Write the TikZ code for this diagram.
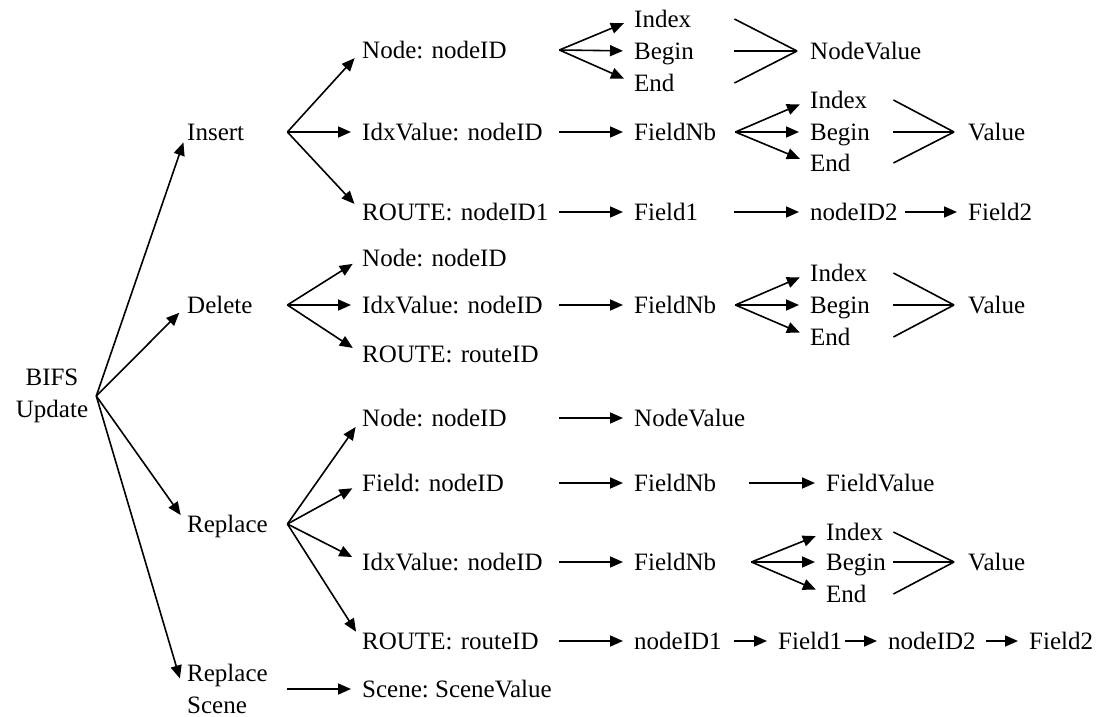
\documentclass[tikz,border=0pt]{standalone}
\usepackage{fontspec}
\setmainfont{Liberation Serif}
\usetikzlibrary{arrows.meta, positioning}
\frenchspacing

\begin{document}
\begin{tikzpicture}[
        x=1pt, y=-1pt,
        every node/.style={font=\fontsize{25}{32}\selectfont, inner sep=0pt},
        lbl/.style={anchor=west, align=left, text height=17pt, text depth=0pt},
        arr/.style={-{Triangle[length=13pt,width=11pt]}, line width=1.6pt, shorten >=11pt},
        merge/.style={line width=1.6pt}
    ]
        \useasboundingbox (0,0) rectangle (1104,717);

        \node[align=center] (bifs) at (52,396) {BIFS\\Update};
        \coordinate[right=8pt of bifs] (bifshub);

        \node[lbl, text width=100pt] (ins) at (187,132) {Insert};
        \node[lbl, text width=100pt] (del) at (187,305) {Delete};
        \node[lbl, text width=100pt] (rep) at (187,524) {Replace};
        \node[anchor=west, align=left, text width=100pt] (rsc) at (187,689) {Replace\\Scene};

        \node[lbl, text width=197pt] (insN) at (362,50) {Node: nodeID};
        \node[lbl, text width=197pt] (insI) at (362,132) {IdxValue: nodeID};
        \node[lbl, text width=197pt] (insR) at (362,212) {ROUTE: nodeID1};
        \node[lbl, text width=197pt] (delN) at (362,258) {Node: nodeID};
        \node[lbl, text width=197pt] (delI) at (362,305) {IdxValue: nodeID};
        \node[lbl, text width=197pt] (delR) at (362,354) {ROUTE: routeID};
        \node[lbl, text width=197pt] (repN) at (362,418) {Node: nodeID};
        \node[lbl, text width=197pt] (repF) at (362,483) {Field: nodeID};
        \node[lbl, text width=197pt] (repI) at (362,562) {IdxValue: nodeID};
        \node[lbl, text width=197pt] (repR) at (362,641) {ROUTE: routeID};
        \node[lbl] (scn) at (362,689) {Scene: SceneValue};

        \node[lbl, text width=100pt] (insNi) at (634,19) {Index};
        \node[lbl, text width=100pt] (insNb) at (634,51) {Begin};
        \node[lbl, text width=100pt] (insNe) at (634,83) {End};
        \node[lbl] (insNv) at (810,51) {NodeValue};

        \node[lbl, text width=101pt] (insIf) at (634,132) {FieldNb};
        \node[lbl, text width=83pt] (insIi) at (810,100) {Index};
        \node[lbl, text width=83pt] (insIb) at (810,132) {Begin};
        \node[lbl, text width=83pt] (insIe) at (810,163) {End};
        \node[lbl] (insIv) at (968,132) {Value};

        \node[lbl, text width=100pt] (insRf1) at (634,212) {Field1};
        \node[lbl, text width=95pt] (insRn2) at (810,212) {nodeID2};
        \node[lbl] (insRf2) at (968,212) {Field2};

        \node[lbl, text width=101pt] (delIf) at (634,305) {FieldNb};
        \node[lbl, text width=83pt] (delIi) at (810,273) {Index};
        \node[lbl, text width=83pt] (delIb) at (810,305) {Begin};
        \node[lbl, text width=83pt] (delIe) at (810,337) {End};
        \node[lbl] (delIv) at (968,305) {Value};

        \node[lbl] (repNv) at (634,418) {NodeValue};

        \node[lbl, text width=115pt] (repFf) at (634,483) {FieldNb};
        \node[lbl] (repFv) at (826,483) {FieldValue};

        \node[lbl, text width=117pt] (repIf) at (634,562) {FieldNb};
        \node[lbl, text width=67pt] (repIi) at (826,532) {Index};
        \node[lbl, text width=67pt] (repIb) at (826,562) {Begin};
        \node[lbl, text width=67pt] (repIe) at (826,594) {End};
        \node[lbl] (repIv) at (968,562) {Value};

        \node[lbl, text width=100pt] (repRn1) at (634,641) {nodeID1};
        \node[lbl, text width=67pt] (repRf1) at (778,641) {Field1};
        \node[lbl, text width=98pt] (repRn2) at (888,641) {nodeID2};
        \node[lbl] (repRf2) at (1029,641) {Field2};

        \foreach \t in {ins,del,rep} \draw[arr] (bifshub) -- (\t.west);
        \draw[arr] (bifshub) -- ([xshift=-4pt]rsc.west);
        \foreach \t in {insN,insI,insR} \draw[arr] (ins.east) -- (\t.west);
        \foreach \t in {delN,delI,delR} \draw[arr] (del.east) -- (\t.west);
        \foreach \t in {repN,repF,repI,repR} \draw[arr] (rep.east) -- (\t.west);
        \draw[arr] (rsc.east) -- (scn.west);

        \foreach \t in {insNi,insNb,insNe} {
            \draw[arr] (insN.east) -- (\t.west);
            \draw[merge] (\t.east) -- ([xshift=-13pt]insNv.west);
        }

        \draw[arr] (insI.east) -- (insIf.west);
        \foreach \t in {insIi,insIb,insIe} {
            \draw[arr] (insIf.east) -- (\t.west);
            \draw[merge] (\t.east) -- ([xshift=-14pt]insIv.west);
        }

        \draw[arr] (insR.east) -- (insRf1.west);
        \draw[arr] (insRf1.east) -- (insRn2.west);
        \draw[arr] (insRn2.east) -- (insRf2.west);

        \draw[arr] (delI.east) -- (delIf.west);
        \foreach \t in {delIi,delIb,delIe} {
            \draw[arr] (delIf.east) -- (\t.west);
            \draw[merge] (\t.east) -- ([xshift=-14pt]delIv.west);
        }

        \draw[arr] (repN.east) -- (repNv.west);

        \draw[arr] (repF.east) -- (repFf.west);
        \draw[arr] (repFf.east) -- (repFv.west);

        \draw[arr] (repI.east) -- (repIf.west);
        \foreach \t in {repIi,repIb,repIe} {
            \draw[arr] (repIf.east) -- (\t.west);
            \draw[merge] (\t.east) -- ([xshift=-14pt]repIv.west);
        }

        \draw[arr] (repR.east) -- (repRn1.west);
        \draw[arr] (repRn1.east) -- (repRf1.west);
        \draw[arr] (repRf1.east) -- (repRn2.west);
        \draw[arr] (repRn2.east) -- (repRf2.west);
    \end{tikzpicture}
\end{document}
